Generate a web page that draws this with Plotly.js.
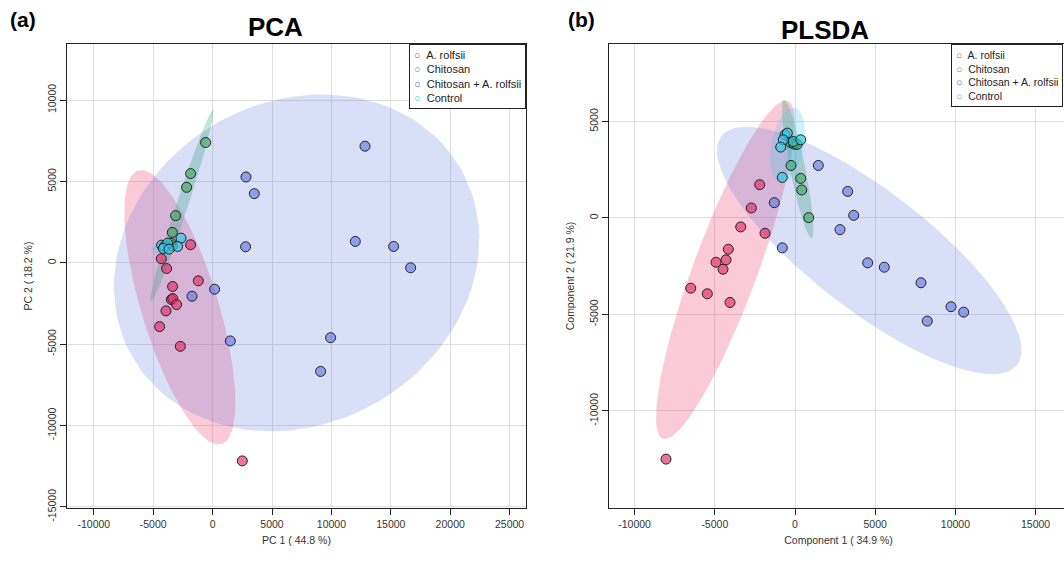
<!DOCTYPE html>
<html><head><meta charset="utf-8">
<script src="https://cdn.plot.ly/plotly-3.0.1.min.js"></script>
<style>html,body{margin:0;padding:0;overflow:hidden;background:#fff}#chart{width:1072px;height:562px}</style>
</head><body><div id="chart"></div>
<script>
// ---- data ----
const groupNames = ["A. rolfsii", "Chitosan", "Chitosan + A. rolfsii", "Control"];

// PCA scores
const pcaRolfsiiX = [-1852, -4318, -3872, -1204, -3367, -3477, -3350, -3030, -3923, -4462, -2719, 2500];
const pcaRolfsiiY = [1108, 246, -351, -1108, -1459, -2260, -2198, -2568, -2956, -3923, -5136, -12174];
const pcaChitosanX = [-589, -1852, -2189, -3115, -3392, -3392, -3502];
const pcaChitosanY = [7390, 5481, 4637, 2894, 1866, 1047, 1207];
const pcaComboX = [12829, 2812, 3510, 2778, 12013, 15237, 16668, 9933, 9091, 168, -1734, 1490];
const pcaComboY = [7162, 5271, 4249, 985, 1312, 1004, -308, -4600, -6675, -1626, -2057, -4803];
const pcaControlX = [-2660, -4293, -4066, -3788, -2946, -4150, -3670];
const pcaControlY = [1515, 1084, 1004, 1207, 1004, 881, 837];

// PLSDA scores
const plsRolfsiiX = [-2201, -2724, -3385, -1870, -4158, -4301, -4925, -4488, -6502, -5467, -4052, -8042];
const plsRolfsiiY = [1722, 517, -465, -796, -1624, -2172, -2296, -2658, -3640, -3930, -4380, -12498];
const plsChitosanX = [-249, 355, 418, 854, -249, -62, 125];
const plsChitosanY = [2720, 2048, 1448, 16, 3898, 3826, 3810];
const plsComboX = [1453, 3285, 3659, 2805, -1290, -792, 4532, 5567, 7855, 9725, 10517, 8247];
const plsComboY = [2720, 1375, 134, -605, 791, -1551, -2327, -2554, -3361, -4602, -4881, -5347];
const plsControlX = [-623, -480, -729, -106, 355, -891, -792];
const plsControlY = [4307, 4395, 4049, 3961, 4049, 3671, 2099];

// tick labels
const pcaXTicks = [-10000, -5000, 0, 5000, 10000, 15000, 20000, 25000];
const pcaXLabels = ["-10000", "-5000", "0", "5000", "10000", "15000", "20000", "25000"];
const pcaYTicks = [-15000, -10000, -5000, 0, 5000, 10000];
const pcaYLabels = ["-15000", "-10000", "-5000", "0", "5000", "10000"];
const plsXTicks = [-10000, -5000, 0, 5000, 10000, 15000];
const plsXLabels = ["-10000", "-5000", "0", "5000", "10000", "15000"];
const plsYTicks = [-10000, -5000, 0, 5000];
const plsYLabels = ["-10000", "-5000", "0", "5000"];

// ---- styling ----
const W = 1072, H = 562;
const legendColors = ["#e8336b", "#3cb44b", "#4363d8", "#3cc8f0"];
const pointFill = ["rgba(226,52,105,0.68)", "rgba(60,170,90,0.62)", "rgba(95,120,225,0.62)", "rgba(55,200,235,0.68)"];
const ellipseFill = ["rgba(240,60,110,0.27)", "rgba(50,170,110,0.30)", "rgba(80,110,220,0.22)", "rgba(60,205,240,0.25)"];

// 95% confidence ellipse computed from the scores (as ellipse::ellipse does)
function ellipse(xs, ys) {
  const n = xs.length;
  const mx = xs.reduce((a, b) => a + b, 0) / n;
  const my = ys.reduce((a, b) => a + b, 0) / n;
  let sxx = 0, syy = 0, sxy = 0;
  for (let i = 0; i < n; i++) {
    sxx += (xs[i] - mx) ** 2; syy += (ys[i] - my) ** 2; sxy += (xs[i] - mx) * (ys[i] - my);
  }
  sxx /= (n - 1); syy /= (n - 1); sxy /= (n - 1);
  const t = Math.sqrt(5.991464547);
  const r = sxy / Math.sqrt(sxx * syy);
  const d = Math.acos(r);
  const ex = [], ey = [];
  for (let k = 0; k <= 100; k++) {
    const a = 2 * Math.PI * k / 100;
    ex.push(t * Math.sqrt(sxx) * Math.cos(a + d / 2) + mx);
    ey.push(t * Math.sqrt(syy) * Math.cos(a - d / 2) + my);
  }
  return [ex, ey];
}

const pcaSets = [[pcaRolfsiiX, pcaRolfsiiY], [pcaChitosanX, pcaChitosanY], [pcaComboX, pcaComboY], [pcaControlX, pcaControlY]];
const plsSets = [[plsRolfsiiX, plsRolfsiiY], [plsChitosanX, plsChitosanY], [plsComboX, plsComboY], [plsControlX, plsControlY]];

const traces = [];
function addPanel(sets, xa, ya) {
  sets.forEach((s, i) => {
    const [ex, ey] = ellipse(s[0], s[1]);
    traces.push({x: ex, y: ey, xaxis: xa, yaxis: ya, mode: "lines", fill: "toself",
      fillcolor: ellipseFill[i], line: {width: 0, color: "rgba(0,0,0,0)"}, hoverinfo: "skip", showlegend: false});
  });
  sets.forEach((s, i) => {
    traces.push({x: s[0], y: s[1], xaxis: xa, yaxis: ya, mode: "markers", type: "scatter", name: groupNames[i],
      marker: {size: 10, color: pointFill[i], line: {color: "#222", width: 1}}, showlegend: false});
  });
}
addPanel(pcaSets, "x", "y");
addPanel(plsSets, "x2", "y2");

const FONT = "Liberation Sans, Arial, sans-serif";
const tickFont = {family: FONT, size: 10.5, color: "#333"};
function axis(domain, range, vals, labels, isY, anchor, title) {
  return {
    domain: domain, range: range, anchor: anchor, tickmode: "array", tickvals: vals, ticktext: labels,
    showgrid: true, gridcolor: "#dedede", gridwidth: 1, zeroline: false,
    showline: true, mirror: true, linecolor: "#222", linewidth: 1,
    ticks: "outside", ticklen: 6, tickcolor: "#222", tickfont: tickFont,
    tickangle: isY ? -90 : 0, automargin: false,
    title: {text: title, font: {family: FONT, size: 10.5, color: "#333"}, standoff: isY ? 11 : 8}
  };
}

const yDom = [1 - 508 / H, 1 - 44 / H];
const px = v => v / W;

function legendText() {
  return groupNames.map((g, i) => "<span style='color:" + legendColors[i] + "'>○</span>  " + g).join("<br>");
}

function label(x, y, text, size) {
  return {xref: "paper", yref: "paper", x: px(x), y: 1 - y / H, xanchor: "center", yanchor: "middle",
    text: text, showarrow: false, font: {family: FONT, size: size, color: "#000"}};
}

const layout = {
  width: W, height: H, margin: {l: 0, r: 0, t: 0, b: 0},
  paper_bgcolor: "#fff", plot_bgcolor: "#fff", showlegend: false,
  xaxis: axis([px(67), px(526)], [-12256, 26380], pcaXTicks, pcaXLabels, false, "y", "PC 1 ( 44.8 %)"),
  yaxis: axis(yDom, [-15068, 13443], pcaYTicks, pcaYLabels, true, "x", "PC 2 ( 18.2 %)"),
  xaxis2: axis([px(609), px(1068)], [-11596, 17020], plsXTicks, plsXLabels, false, "y2", "Component 1 ( 34.9 %)"),
  yaxis2: axis(yDom, [-15031, 9013], plsYTicks, plsYLabels, true, "x2", "Component 2 ( 21.9 %)"),
  annotations: [
    label(23, 19, "<b>(a)</b>", 21),
    label(581, 19, "<b>(b)</b>", 21),
    label(275, 27, "<b>PCA</b>", 26),
    label(825, 30, "<b>PLSDA</b>", 26),
    {xref: "paper", yref: "paper", x: px(526), y: 1 - 44 / H, xanchor: "right", yanchor: "top",
      text: legendText(), align: "left", showarrow: false, bgcolor: "#fff", bordercolor: "#222",
      borderwidth: 1, borderpad: 4, font: {family: FONT, size: 11, color: "#222"}},
    {xref: "paper", yref: "paper", x: px(951), y: 1 - 44 / H, xanchor: "left", yanchor: "top",
      text: legendText() + "  ", align: "left", showarrow: false, bgcolor: "#fff", bordercolor: "#222",
      borderwidth: 1, borderpad: 4, font: {family: FONT, size: 10.5, color: "#222"}}
  ]
};

Plotly.newPlot("chart", traces, layout, {staticPlot: true, displayModeBar: false});
</script>
</body></html>
